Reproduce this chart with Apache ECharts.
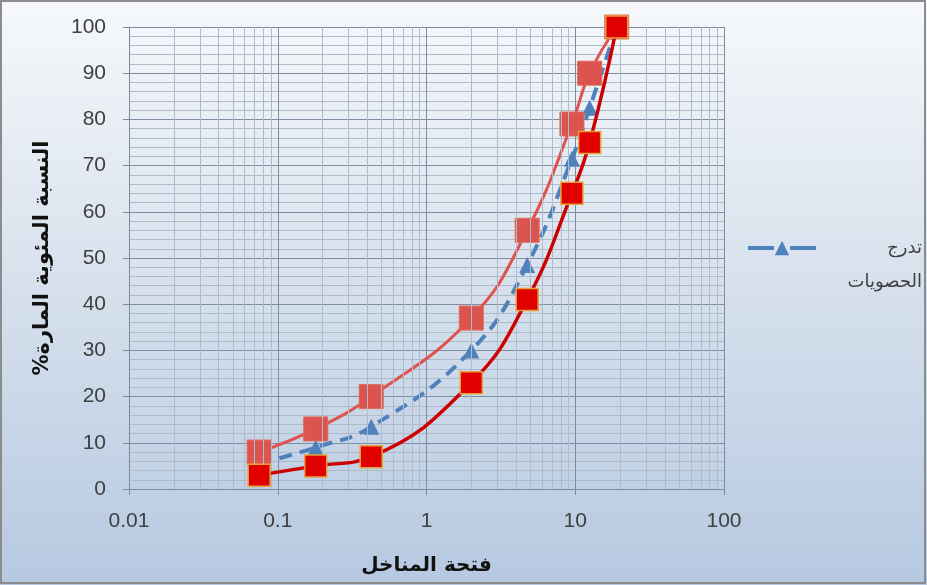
<!DOCTYPE html>
<html>
<head>
<meta charset="utf-8">
<script src="https://cdn.jsdelivr.net/npm/echarts@6/dist/echarts.min.js"></script>
<style>html,body{margin:0;padding:0;}#c{width:927px;height:585px;}</style>
</head>
<body>
<div id="c"></div>
<script>
const sieve = [0.075, 0.18, 0.425, 2, 4.75, 9.5, 12.5, 19];
const upperLimit = [8, 13, 20, 37, 56, 79, 90, 100];
const lowerLimit = [3, 5, 7, 23, 41, 64, 75, 100];
const gradation = [5.5, 9, 13.5, 30, 48.5, 71.5, 82.5, 100];
const yTicks = [0, 10, 20, 30, 40, 50, 60, 70, 80, 90, 100];
const xDecades = [0.01, 0.1, 1, 10, 100];
const legendName = 'تدرج الحصويات';
const legendLines = ['تدرج', 'الحصويات'];
const xName = 'فتحة المناخل';
const yName = 'النسبة المئوية المارة%\u200F';

const minorX = [];
for (let d = 0; d < xDecades.length - 1; d++) {
  for (let k = 2; k <= 9; k++) minorX.push(+(xDecades[d] * k).toPrecision(3));
}
const pts = (ys) => sieve.map((x, i) => [x, ys[i]]);

const chart = echarts.init(document.getElementById('c'));
chart.setOption({
  animation: false,
  backgroundColor: new echarts.graphic.LinearGradient(0, 0, 0, 1, [
    {offset: 0, color: '#f6f8fb'},
    {offset: 0.5, color: '#d6e0ec'},
    {offset: 1, color: '#b6c9e1'}
  ]),
  graphic: [{
    type: 'rect', shape: {x: 1, y: 1, width: 924, height: 582},
    style: {fill: 'none', stroke: '#8c8c8c', lineWidth: 2}, silent: true
  }],
  grid: {left: 129, right: 203, top: 27, bottom: 96},
  legend: {
    data: [legendName],
    left: 741, top: 192,
    itemWidth: 68, itemHeight: 18, itemGap: 5,
    lineStyle: {color: '#4f81bd', width: 4, type: [26, 16]},
    formatter: () => '{a| }\n' + legendLines.map(s => '{a|' + s + '}').join('\n'),
    textStyle: {
      fontFamily: 'DejaVu Sans', fontSize: 18, color: '#404040', lineHeight: 34,
      rich: {a: {fontFamily: 'DejaVu Sans', fontSize: 18, color: '#404040', width: 101, align: 'right', lineHeight: 34}}
    }
  },
  xAxis: {
    type: 'log', logBase: 10, min: 0.01, max: 100,
    name: xName, nameLocation: 'middle', nameGap: 67,
    nameTextStyle: {fontFamily: 'DejaVu Sans', fontWeight: 'bold', fontSize: 20, color: '#111'},
    axisLine: {show: true, lineStyle: {color: '#7f8a98', width: 1}},
    axisTick: {show: true, length: 6, lineStyle: {color: '#7f8a98'}},
    axisLabel: {color: '#404040', fontSize: 21, fontFamily: 'Liberation Sans', margin: 22,
      formatter: (v) => String(v)},
    splitLine: {show: true, lineStyle: {color: '#7d8ea3', width: 1}}
  },
  yAxis: {
    type: 'value', min: 0, max: 100, interval: 10,
    name: yName, nameLocation: 'middle', nameGap: 76, nameRotate: 90,
    nameTextStyle: {fontFamily: 'DejaVu Sans', fontWeight: 'bold', fontSize: 21, color: '#111'},
    axisLine: {show: true, lineStyle: {color: '#7f8a98', width: 1}},
    axisTick: {show: true, length: 6, lineStyle: {color: '#7f8a98'}},
    axisLabel: {color: '#404040', fontSize: 21, fontFamily: 'Liberation Sans', margin: 23},
    splitLine: {show: true, lineStyle: {color: '#7d8ea3', width: 1}},
    minorTick: {show: false, splitNumber: 5},
    minorSplitLine: {show: true, lineStyle: {color: '#aebbcb', width: 1}}
  },
  series: [
    {
      name: '_minor', type: 'line', data: [], silent: true,
      markLine: {
        silent: true, symbol: 'none', label: {show: false},
        lineStyle: {color: '#aebbcb', width: 1, type: 'solid'},
        data: minorX.map(v => ({xAxis: v}))
      }
    },
    {
      name: legendName, type: 'line', data: pts(gradation), smooth: 0.45,
      symbol: 'triangle', symbolSize: 16,
      lineStyle: {color: '#4f81bd', width: 4, type: [13, 8]},
      itemStyle: {color: '#4f81bd'}, z: 3
    },
    {
      name: 'upper', type: 'line', data: pts(upperLimit), smooth: 0.45,
      symbol: 'rect', symbolSize: 24,
      lineStyle: {color: '#e0524e', width: 3},
      itemStyle: {color: '#dc5450', borderColor: '#e06a55', borderWidth: 1}, z: 4
    },
    {
      name: 'lower', type: 'line', data: pts(lowerLimit), smooth: 0.45,
      symbol: 'rect', symbolSize: 22,
      lineStyle: {color: '#cc0000', width: 3.5},
      itemStyle: {color: '#e00000', borderColor: '#e6a23a', borderWidth: 1.5}, z: 5
    }
  ]
});
</script>
</body>
</html>
